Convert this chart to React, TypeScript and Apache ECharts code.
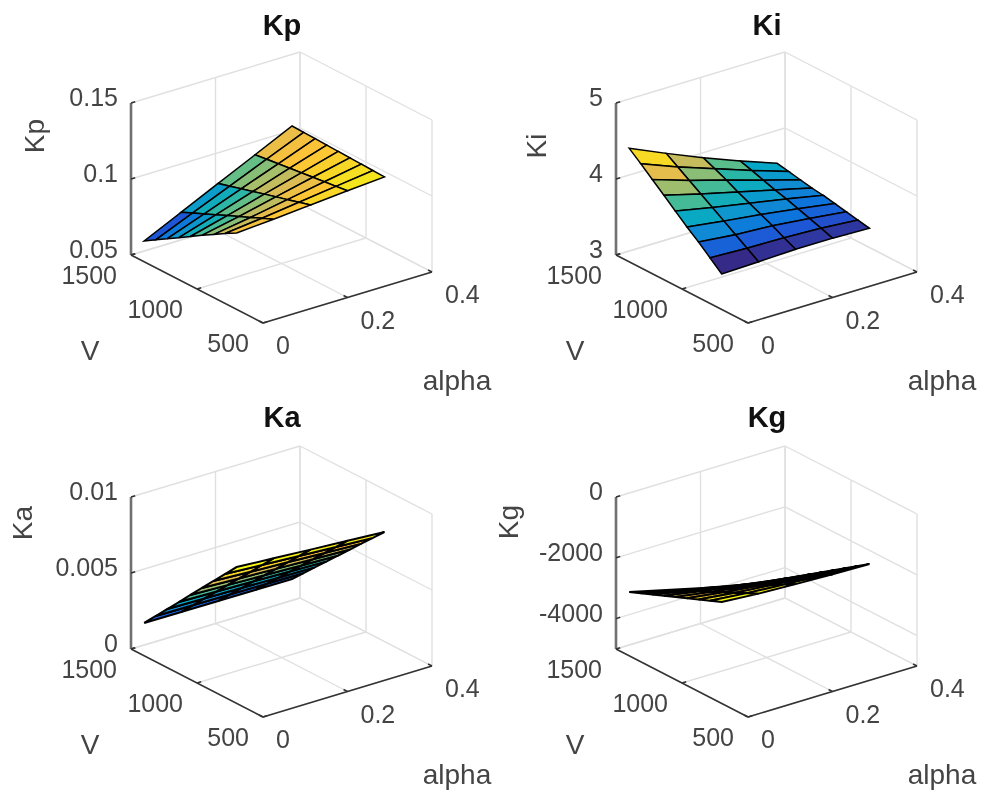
import React, { useEffect, useRef } from "react";
import * as echarts from "echarts";

// ---------- data ----------
const alphaValues = [0, 0.0875, 0.175, 0.2625, 0.35];
const voltageValues = [700, 787.5, 875, 962.5, 1050, 1137.5, 1225, 1312.5, 1400];

const alphaTicks = [0, 0.2, 0.4];
const alphaTickLabels = ["0", "0.2", "0.4"];
const voltageTicks = [1500, 1000, 500];
const voltageTickLabels = ["1500", "1000", "500"];

const kpValues = [
  [0.1003, 0.096, 0.0914, 0.087, 0.0823, 0.0776, 0.073, 0.0684, 0.0637],
  [0.102, 0.0987, 0.0953, 0.092, 0.0887, 0.0853, 0.082, 0.0787, 0.0753],
  [0.104, 0.1019, 0.0997, 0.0976, 0.0955, 0.0933, 0.0912, 0.089, 0.0869],
  [0.106, 0.105, 0.1041, 0.1032, 0.1022, 0.1013, 0.1003, 0.0994, 0.0984],
  [0.1078, 0.1081, 0.1084, 0.1086, 0.1089, 0.1092, 0.1095, 0.1097, 0.11],
];
const kiValues = [
  [3.466, 3.6, 3.73, 3.85, 3.98, 4.11, 4.24, 4.37, 4.493],
  [3.48, 3.58, 3.68, 3.78, 3.88, 3.98, 4.08, 4.18, 4.28],
  [3.497, 3.57, 3.65, 3.72, 3.79, 3.86, 3.94, 4.01, 4.076],
  [3.496, 3.55, 3.6, 3.65, 3.7, 3.74, 3.79, 3.84, 3.886],
  [3.48, 3.51, 3.54, 3.57, 3.6, 3.62, 3.65, 3.68, 3.709],
];
const kaValues = [
  [0.00897, 0.00812, 0.00727, 0.00642, 0.00557, 0.00471, 0.00386, 0.00301, 0.00216],
  [0.00881, 0.00798, 0.00714, 0.00631, 0.00548, 0.00465, 0.00382, 0.00298, 0.00215],
  [0.00865, 0.00784, 0.00703, 0.00621, 0.0054, 0.00459, 0.00377, 0.00296, 0.00214],
  [0.0085, 0.0077, 0.00691, 0.00611, 0.00531, 0.00452, 0.00372, 0.00293, 0.00213],
  [0.00834, 0.00756, 0.00679, 0.00601, 0.00523, 0.00445, 0.00368, 0.0029, 0.00212],
];
const kgValues = [
  [-1664, -1819, -1973, -2128, -2282, -2437, -2591, -2746, -2900],
  [-1756, -1937, -2118, -2299, -2480, -2661, -2842, -3023, -3204],
  [-1809, -2021, -2233, -2444, -2656, -2868, -3080, -3291, -3503],
  [-1859, -2098, -2338, -2577, -2816, -3055, -3295, -3534, -3773],
  [-1882, -2144, -2405, -2667, -2928, -3190, -3451, -3713, -3974],
];

const kpTicks = [0.05, 0.1, 0.15];
const kpTickLabels = ["0.05", "0.1", "0.15"];
const kiTicks = [3, 4, 5];
const kiTickLabels = ["3", "4", "5"];
const kaTicks = [0, 0.005, 0.01];
const kaTickLabels = ["0", "0.005", "0.01"];
const kgTicks = [-4000, -2000, 0];
const kgTickLabels = ["-4000", "-2000", "0"];

// parula colour stops
const parulaStops = [
  [0.2081, 0.1663, 0.5292],
  [0.1253, 0.3242, 0.8303],
  [0.0498, 0.4586, 0.8641],
  [0.0641, 0.557, 0.824],
  [0.0228, 0.6535, 0.7768],
  [0.1453, 0.7098, 0.6646],
  [0.3953, 0.7459, 0.5244],
  [0.6473, 0.7456, 0.4188],
  [0.8507, 0.7299, 0.336],
  [0.999, 0.7653, 0.2164],
  [0.9589, 0.8949, 0.1132],
  [0.9763, 0.9831, 0.0538],
];

// ---------- layout ----------
const FONT = '"Liberation Sans", Arial, sans-serif';
const TICK_SIZE = 25;
const LABEL_SIZE = 28;
const TITLE_SIZE = 29;
const INK = "#444444";

const panels = [
  { name: "Kp", values: kpValues, zTicks: kpTicks, zLabels: kpTickLabels, zMin: 0.05, zMax: 0.15, dx: 0, dy: 0, nameAt: [34, 136], titleAt: [282, 10], mesh: 1.5 },
  { name: "Ki", values: kiValues, zTicks: kiTicks, zLabels: kiTickLabels, zMin: 3, zMax: 5, dx: 485, dy: 0, nameAt: [536, 146], titleAt: [767, 10], mesh: 1.5 },
  { name: "Ka", values: kaValues, zTicks: kaTicks, zLabels: kaTickLabels, zMin: 0, zMax: 0.01, dx: 0, dy: 394, nameAt: [22, 523], titleAt: [282, 402], mesh: 2 },
  { name: "Kg", values: kgValues, zTicks: kgTicks, zLabels: kgTickLabels, zMin: -5000, zMax: 0, dx: 485, dy: 394, nameAt: [508, 522], titleAt: [767, 402], mesh: 1.9 },
];

const ALPHA_MAX = 0.4;
const V_MIN = 500;
const V_MAX = 1500;
// Screen extents of the three box directions
const AX = 169, AY = 51, VX = 132, VY = 68, ZY = 152;

function colourAt(t: number) {
  const p = Math.max(0, Math.min(1, t)) * (parulaStops.length - 1);
  const i = Math.min(parulaStops.length - 2, Math.floor(p));
  const f = p - i;
  const c = parulaStops[i].map((v, k) => Math.round((v + (parulaStops[i + 1][k] - v) * f) * 255));
  return `rgb(${c[0]},${c[1]},${c[2]})`;
}

function buildOption() {
  const grid: any[] = [];
  const xAxis: any[] = [];
  const yAxis: any[] = [];
  const series: any[] = [];
  const title: any[] = [];

  panels.forEach((panel, index) => {
    grid.push({ left: 131 + panel.dx, top: 52 + panel.dy, width: AX + VX, height: AY + VY + ZY });
    xAxis.push({ gridIndex: index, type: "value", min: -VX, max: AX, show: false });
    yAxis.push({ gridIndex: index, type: "value", min: 0, max: AY + VY + ZY, show: false });
    title.push({
      text: panel.name,
      left: panel.titleAt[0],
      top: panel.titleAt[1],
      padding: 0,
      textAlign: "center",
      textStyle: { fontFamily: FONT, fontWeight: "bold", fontSize: TITLE_SIZE, color: "#111111" },
    });

    const project = (alpha: number, v: number, z: number) => {
      const a = alpha / ALPHA_MAX;
      const w = (v - V_MIN) / (V_MAX - V_MIN);
      const h = (z - panel.zMin) / (panel.zMax - panel.zMin);
      return [AX * a - VX * w, AY * a + VY * w + ZY * h];
    };
    const { zMin, zMax } = panel;

    const base = {
      type: "custom",
      coordinateSystem: "cartesian2d",
      xAxisIndex: index,
      yAxisIndex: index,
      silent: true,
      clip: false,
      animation: false,
    };

    // box: walls, floor, grid lines
    series.push({
      ...base,
      data: [[0, 0]],
      z: 1,
      renderItem: (_p: any, api: any) => {
        const pt = (a: number, v: number, z: number) => api.coord(project(a, v, z));
        const seg = (p: number[], q: number[], stroke = "#e0e0e0", lineWidth = 1.4) => ({
          type: "line",
          shape: { x1: p[0], y1: p[1], x2: q[0], y2: q[1] },
          style: { stroke, lineWidth },
        });
        const children: any[] = [];
        [zMin, ...panel.zTicks.filter((t) => t !== zMin), zMax]
          .filter((t, i, arr) => arr.indexOf(t) === i)
          .forEach((t) => {
            children.push(seg(pt(0, V_MAX, t), pt(ALPHA_MAX, V_MAX, t)));
            children.push(seg(pt(ALPHA_MAX, V_MAX, t), pt(ALPHA_MAX, V_MIN, t)));
          });
        alphaTicks.forEach((t) => {
          if (t > 0) children.push(seg(pt(t, V_MAX, zMin), pt(t, V_MAX, zMax)));
          children.push(seg(pt(t, V_MIN, zMin), pt(t, V_MAX, zMin)));
        });
        voltageTicks.forEach((t) => {
          children.push(seg(pt(ALPHA_MAX, t, zMin), pt(ALPHA_MAX, t, zMax)));
          children.push(seg(pt(0, t, zMin), pt(ALPHA_MAX, t, zMin)));
        });
        return { type: "group", children };
      },
    });

    // surface, far cells first
    const cells: number[][] = [];
    for (let i = alphaValues.length - 2; i >= 0; i--) {
      for (let j = voltageValues.length - 2; j >= 0; j--) cells.push([i, j]);
    }
    const flat = panel.values.flat();
    const low = Math.min(...flat);
    const high = Math.max(...flat);
    series.push({
      ...base,
      data: cells,
      z: 2,
      renderItem: (_p: any, api: any) => {
        const i = api.value(0);
        const j = api.value(1);
        const corner = (a: number, b: number) =>
          api.coord(project(alphaValues[a], voltageValues[b], panel.values[a][b]));
        return {
          type: "polygon",
          shape: { points: [corner(i, j), corner(i + 1, j), corner(i + 1, j + 1), corner(i, j + 1)] },
          style: {
            fill: colourAt((panel.values[i][j] - low) / (high - low)),
            stroke: "#000000",
            lineWidth: panel.mesh,
          },
        };
      },
    });

    // axes, ticks and texts
    series.push({
      ...base,
      data: [[0, 0]],
      z: 3,
      renderItem: (_p: any, api: any) => {
        const pt = (a: number, v: number, z: number) => api.coord(project(a, v, z));
        const seg = (p: number[], q: number[], stroke: string, lineWidth: number) => ({
          type: "line",
          shape: { x1: p[0], y1: p[1], x2: q[0], y2: q[1] },
          style: { stroke, lineWidth },
        });
        const text = (s: string, x: number, y: number, align: string, size: number, rotation = 0) => ({
          type: "text",
          x,
          y,
          rotation,
          style: {
            text: s,
            font: `${size}px ${FONT}`,
            fontSize: size,
            fontFamily: FONT,
            fill: INK,
            textAlign: align,
            align,
            textVerticalAlign: "middle",
            verticalAlign: "middle",
          },
        });
        const children: any[] = [
          seg(pt(0, V_MAX, zMin), pt(0, V_MAX, zMax), "#707070", 2.6),
          seg(pt(0, V_MAX, zMin), pt(0, V_MIN, zMin), "#333333", 1.5),
          seg(pt(0, V_MIN, zMin), pt(ALPHA_MAX, V_MIN, zMin), "#333333", 1.5),
        ];
        panel.zTicks.forEach((t, k) => {
          const p = pt(0, V_MAX, t);
          children.push(seg(p, pt(0.01, V_MAX, t), "#333333", 1.5));
          children.push(text(panel.zLabels[k], p[0] - 13, p[1] - 6, "right", TICK_SIZE));
        });
        voltageTicks.forEach((t, k) => {
          const p = pt(0, t, zMin);
          children.push(seg(p, pt(0.01, t, zMin), "#333333", 1.5));
          children.push(text(voltageTickLabels[k], p[0] - 14, p[1] + 20, "right", TICK_SIZE));
        });
        alphaTicks.forEach((t, k) => {
          const p = pt(t, V_MIN, zMin);
          children.push(seg(p, pt(t, V_MIN + 30, zMin), "#333333", 1.5));
          children.push(text(alphaTickLabels[k], p[0] + 13, p[1] + 22, "left", TICK_SIZE));
        });
        const origin = api.coord([0, 0]);
        children.push(text("V", origin[0] - 173, origin[1] + 27, "center", LABEL_SIZE));
        children.push(text("alpha", origin[0] + 194, origin[1] + 57, "center", LABEL_SIZE));
        children.push(text(panel.name, panel.nameAt[0], panel.nameAt[1], "center", LABEL_SIZE, Math.PI / 2));
        return { type: "group", children };
      },
    });
  });

  return { animation: false, backgroundColor: "#ffffff", title, grid, xAxis, yAxis, series };
}

export default function App() {
  const ref = useRef<HTMLDivElement>(null);
  useEffect(() => {
    const chart = echarts.init(ref.current!, undefined, { renderer: "svg" });
    chart.setOption(buildOption() as any);
    return () => chart.dispose();
  }, []);
  return (
    <div
      ref={ref}
      style={{ position: "absolute", left: 0, top: 0, width: 984, height: 790, filter: "blur(0.6px)" }}
    />
  );
}
